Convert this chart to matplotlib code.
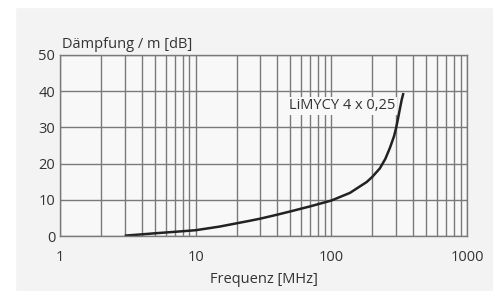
import matplotlib
matplotlib.use("Agg")
import matplotlib.pyplot as plt
import numpy as np
from matplotlib.ticker import FixedLocator, NullFormatter

freq_mhz = [3, 4, 5, 7, 10, 15, 20, 25, 30, 40, 50, 70, 100, 137, 182, 200, 228, 250, 270, 290, 300, 310, 320, 330, 340]
atten_db = [0.1, 0.45, 0.75, 1.15, 1.6, 2.6, 3.5, 4.2, 4.8, 5.9, 6.8, 8.2, 9.8, 11.9, 14.9, 16.3, 18.7, 21.3, 24.3, 27.6, 29.8, 32.4, 35.1, 37.6, 39.5]
x_ticks = [1, 10, 100, 1000]
x_tick_labels = ["1", "10", "100", "1000"]
y_ticks = [0, 10, 20, 30, 40, 50]
curve_label = "LiMYCY 4 x 0,25"

plt.rcParams['font.family'] = ['Open Sans', 'DejaVu Sans']
W, H = 493, 291
fig = plt.figure(figsize=(W/100, H/100), dpi=100)
fig.patch.set_facecolor('#f3f3f3')
fig.add_artist(plt.Rectangle((0, 0), 15/W, 1, transform=fig.transFigure, color='white', zorder=0))
fig.add_artist(plt.Rectangle((0, 1-7/H), 1, 7/H, transform=fig.transFigure, color='white', zorder=0))

left, right, top, bottom = 60, 467, 55, 236
ax = fig.add_axes([left/W, 1-bottom/H, (right-left)/W, (bottom-top)/H])
ax.set_facecolor('#f8f8f8')
ax.set_xscale('log')
ax.set_xlim(1, 1000)
ax.set_ylim(0, 50)

gc = '#7a7a7a'
minor = [m*10**d for d in range(0, 3) for m in range(2, 10)]
ax.xaxis.set_major_locator(FixedLocator(x_ticks))
ax.xaxis.set_minor_locator(FixedLocator(minor))
ax.xaxis.set_minor_formatter(NullFormatter())
ax.set_xticklabels(x_tick_labels)
ax.set_yticks(y_ticks)
ax.grid(True, which='both', axis='x', color=gc, lw=1.0)
ax.grid(True, which='major', axis='y', color=gc, lw=1.0)
for s in ax.spines.values():
    s.set_color(gc)
    s.set_linewidth(1.0)
ax.tick_params(which='both', length=0, colors='#333333', labelsize=10.5)
ax.tick_params(axis='x', pad=10)
ax.tick_params(axis='y', pad=3.5)

ax.plot(freq_mhz, atten_db, color='#222222', lw=1.8, solid_joinstyle='round', solid_capstyle='butt')

ax.text(299, 36.0, curve_label, ha='right', va='center', fontsize=10.5, color='#333333',
        bbox=dict(facecolor='#f8f8f8', edgecolor='none', pad=1))
ax.text(1.03, 52.8, "Dämpfung / m [dB]", ha='left', va='center', fontsize=10.5, color='#333333', clip_on=False)
ax.set_xlabel("Frequenz [MHz]", fontsize=10.5, color='#333333', labelpad=5)

fig.savefig("out.png", dpi=100, facecolor=fig.get_facecolor())
